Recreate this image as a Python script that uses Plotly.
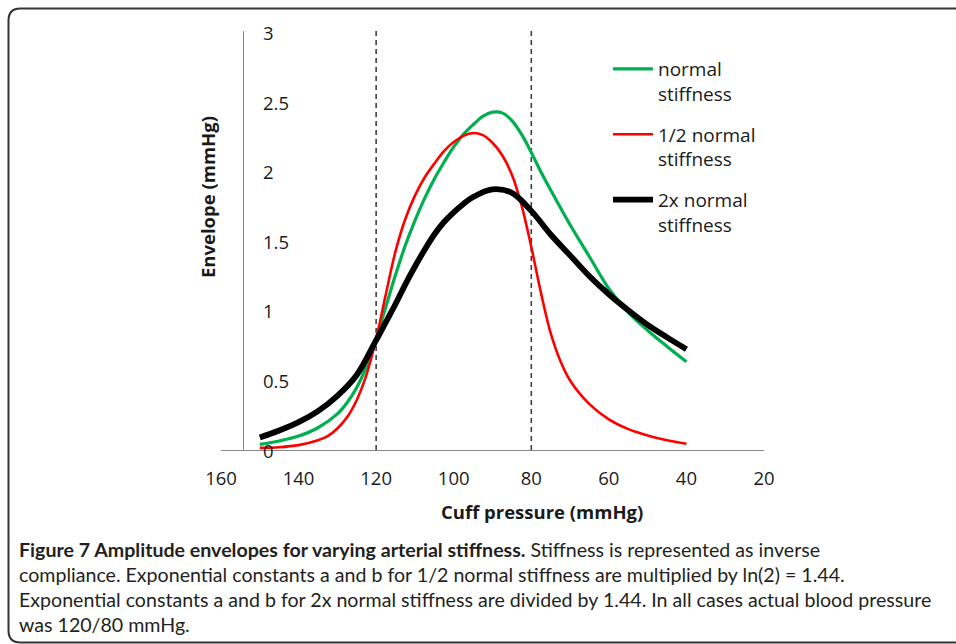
import plotly.graph_objects as go

# Cuff pressure samples (mmHg) and oscillation envelope amplitudes (mmHg)
pressure_double = [150, 145, 140, 135, 130, 125, 120, 117.5, 115, 112.5, 110,
                   107.5, 105, 102.5, 100, 97.5, 95, 90, 85, 80, 75, 70, 65,
                   60, 55, 50, 45, 40]
env_double = [0.09, 0.14, 0.20, 0.28, 0.39, 0.54, 0.79, 0.92, 1.05, 1.19, 1.32,
              1.44, 1.55, 1.64, 1.71, 1.77, 1.82, 1.875, 1.85, 1.72, 1.55, 1.40,
              1.25, 1.12, 1.005, 0.90, 0.81, 0.725]

pressure_normal = [150, 145, 140, 135, 130, 127.5, 125, 122.5, 120, 117.5, 115,
                   112.5, 110, 107.5, 105, 102.5, 100, 97.5, 95, 92.5, 90, 87.5,
                   85, 82.5, 80, 77.5, 75, 70, 65, 60, 55, 50, 45, 40]
env_normal = [0.04, 0.065, 0.10, 0.16, 0.26, 0.34, 0.45, 0.60, 0.80, 1.03, 1.26,
              1.47, 1.65, 1.81, 1.95, 2.07, 2.18, 2.27, 2.34, 2.40, 2.43, 2.425,
              2.37, 2.27, 2.14, 2.00, 1.87, 1.62, 1.39, 1.16, 0.99, 0.86, 0.745,
              0.635]

pressure_half = [150, 145, 140, 135, 132.5, 130, 127.5, 125, 122.5, 120, 117.5,
                 115, 112.5, 110, 107.5, 105, 102.5, 100, 97.5, 95, 92.5, 90,
                 87.5, 85, 82.5, 80, 77.5, 75, 72.5, 70, 65, 60, 55, 50, 45, 40]
env_half = [0.015, 0.02, 0.035, 0.07, 0.10, 0.155, 0.235, 0.36, 0.54, 0.80, 1.12,
            1.43, 1.66, 1.83, 1.96, 2.06, 2.15, 2.215, 2.26, 2.28, 2.265, 2.21,
            2.12, 1.98, 1.76, 1.46, 1.13, 0.84, 0.64, 0.50, 0.33, 0.22, 0.15,
            0.105, 0.07, 0.045]

series_names = ["normal<br>stiffness", "1/2 normal<br>stiffness", "2x normal<br>stiffness"]
series_x = [pressure_normal, pressure_half, pressure_double]
series_values = [env_normal, env_half, env_double]
series_colors = ["#00B050", "#FF0000", "#000000"]
series_widths = [3.2, 2.6, 5.8]

# Actual systolic / diastolic pressure markers
actual_bp = [120, 80]

x_ticks = [160, 140, 120, 100, 80, 60, 40, 20]
y_ticks = [0, 0.5, 1, 1.5, 2, 2.5, 3]
y_tick_text = ["0", "0.5", "1", "1.5", "2", "2.5", "3"]

caption_lines = [
    "<b>Figure 7 Amplitude envelopes for varying arterial stiffness.</b> Stiffness is represented as inverse",
    "compliance. Exponential constants a and b for 1/2 normal stiffness are multiplied by ln(2) = 1.44.",
    "Exponential constants a and b for 2x normal stiffness are divided by 1.44. In all cases actual blood pressure",
    "was 120/80 mmHg.",
]

W, H = 956, 644
Y_MAX = 3.014


def fx(p):
    return p / W


def fy(p):
    return 1 - p / H


fig = go.Figure()

for bp in actual_bp:
    fig.add_trace(go.Scatter(
        x=[bp, bp], y=[0, Y_MAX], mode="lines", showlegend=False,
        hoverinfo="skip",
        line=dict(color="#404040", width=1.6, dash="5px,4px"),
    ))

for i, (name, xs, vals, col, w) in enumerate(zip(series_names, series_x, series_values,
                                                 series_colors, series_widths)):
    fig.add_trace(go.Scatter(
        x=xs, y=vals, name=name, mode="lines",
        legendgroup=f"g{i}",
        line=dict(color=col, width=w, shape="spline", smoothing=1.0),
    ))

label_font = dict(family="Open Sans, Calibri, sans-serif", size=18.5, color="#1a1a1a")

fig.update_layout(
    width=W, height=H,
    margin=dict(l=0, r=0, t=0, b=0, pad=0, autoexpand=False),
    paper_bgcolor="white", plot_bgcolor="white",
    showlegend=True,
    legend=dict(
        x=fx(608), y=fy(50), xanchor="left", yanchor="top",
        font=dict(family="Open Sans, Calibri, sans-serif", size=19, color="#1a1a1a"),
        valign="top", itemwidth=40, tracegroupgap=13,
        bgcolor="rgba(0,0,0,0)",
    ),
    xaxis=dict(
        domain=[fx(221), fx(764)], range=[160, 20],
        tickvals=x_ticks, ticktext=[str(v) for v in x_ticks],
        ticks="", showgrid=False, zeroline=False,
        showline=True, linecolor="#888888", linewidth=1.2,
        tickfont=label_font, ticklabelstandoff=12, automargin=False,
    ),
    yaxis=dict(
        domain=[fy(450), fy(31)], range=[0, Y_MAX],
        anchor="free", position=fx(243),
        showticklabels=False, ticks="",
        showgrid=False, zeroline=False, automargin=False,
        showline=True, linecolor="#888888", linewidth=1.2,
    ),
)

# Value labels of the vertical axis sit to the right of its line
for val, txt in zip(y_ticks, y_tick_text):
    fig.add_annotation(
        text=txt, xref="paper", yref="y", x=fx(261), y=val,
        showarrow=False, xanchor="left", yanchor="middle", font=label_font,
    )

title_font = dict(family="Open Sans, Calibri, sans-serif", size=18.5, color="#1a1a1a")
fig.add_annotation(
    text="<b>Cuff pressure (mmHg)</b>", xref="paper", yref="paper",
    x=fx(542), y=fy(511), showarrow=False, xanchor="center", yanchor="middle",
    font=title_font,
)
fig.add_annotation(
    text="<b>Envelope (mmHg)</b>", xref="paper", yref="paper",
    x=fx(207), y=fy(197), showarrow=False, xanchor="center", yanchor="middle",
    textangle=-90, font=title_font,
)

caption_font = dict(family="Lato, sans-serif", size=19.6, color="#231f20")
for k, line in enumerate(caption_lines):
    fig.add_annotation(
        text=line, xref="paper", yref="paper",
        x=fx(17), y=fy(549 + 25.3 * k), showarrow=False,
        xanchor="left", yanchor="middle", align="left", font=caption_font,
    )

# Rounded figure frame
r = 12
L, T, B, R = 8.5, 8.5, 642.5, 970
frame = (f"M {fx(R)},{fy(T)} L {fx(L + r)},{fy(T)} "
         f"Q {fx(L)},{fy(T)} {fx(L)},{fy(T + r)} "
         f"L {fx(L)},{fy(B - r)} Q {fx(L)},{fy(B)} {fx(L + r)},{fy(B)} "
         f"L {fx(R)},{fy(B)}")
fig.add_shape(type="path", path=frame, xref="paper", yref="paper",
              line=dict(color="#333333", width=2))

fig.write_html("out.html")
